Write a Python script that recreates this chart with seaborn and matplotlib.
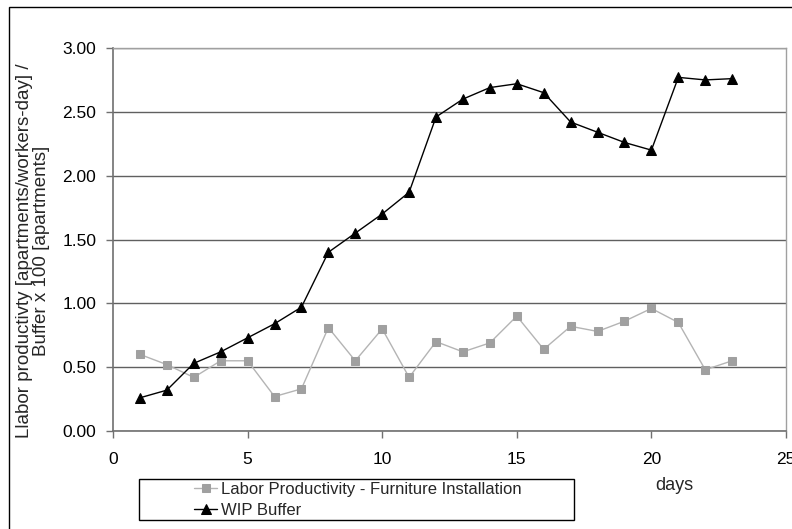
import matplotlib
matplotlib.use("Agg")
import matplotlib.pyplot as plt
import seaborn as sns
import pandas as pd
from matplotlib.patches import Rectangle

days = list(range(1, 24))
labor_productivity = [0.60, 0.52, 0.42, 0.55, 0.55, 0.27, 0.33, 0.81, 0.55, 0.80,
                      0.42, 0.70, 0.62, 0.69, 0.90, 0.64, 0.82, 0.78, 0.86, 0.96,
                      0.85, 0.48, 0.55]
wip_buffer = [0.26, 0.32, 0.53, 0.62, 0.73, 0.84, 0.97, 1.40, 1.55, 1.70,
              1.87, 2.46, 2.60, 2.69, 2.72, 2.65, 2.42, 2.34, 2.26, 2.20,
              2.77, 2.75, 2.76]
series_names = ["Labor Productivity - Furniture Installation", "WIP Buffer"]
x_ticks = [0, 5, 10, 15, 20, 25]
y_ticks = [0.0, 0.5, 1.0, 1.5, 2.0, 2.5, 3.0]

sns.set_style("white")
plt.rcParams['font.family'] = ['Liberation Sans', 'DejaVu Sans']

fig = plt.figure(figsize=(7.92, 5.29), dpi=100)
ax = fig.add_axes([113/792, 1 - 431/529, (786 - 113)/792, (431 - 48)/529])

df1 = pd.DataFrame({"day": days, "value": labor_productivity})
df2 = pd.DataFrame({"day": days, "value": wip_buffer})

sns.lineplot(data=df1, x="day", y="value", ax=ax, color="#b4b4b4", lw=1,
             marker="s", markersize=6, markerfacecolor="#a0a0a0",
             markeredgecolor="#a0a0a0", label=series_names[0], zorder=3)
sns.lineplot(data=df2, x="day", y="value", ax=ax, color="black", lw=1,
             marker="^", markersize=7, markerfacecolor="black",
             markeredgecolor="black", label=series_names[1], zorder=4)

ax.set_xlim(0, 25)
ax.set_ylim(0, 3.0)
ax.set_xticks(x_ticks)
ax.set_xticklabels([str(t) for t in x_ticks])
ax.set_yticks(y_ticks)
ax.set_yticklabels([f"{t:.2f}" for t in y_ticks])
ax.yaxis.grid(True, color="#606060", lw=1)
ax.set_axisbelow(True)
ax.tick_params(axis="both", direction="out", length=5, width=1, color="#707070",
               labelsize=12.5, labelcolor="black", bottom=True, left=True)
ax.tick_params(axis="y", pad=7)
ax.tick_params(axis="x", pad=10)
for side in ["left", "bottom"]:
    ax.spines[side].set_color("#707070")
    ax.spines[side].set_linewidth(1.2)
for side in ["right", "top"]:
    ax.spines[side].set_color("#a0a0a0")
    ax.spines[side].set_linewidth(1)

ax.set_xlabel("")
ax.set_ylabel("")
fig.text(33/792, 1 - 251/529,
         "Llabor productivty [apartments/workers-day] /\nBuffer x 100 [apartments]",
         fontsize=13.5, rotation=90, ha="center", va="center",
         multialignment="center", linespacing=1.05)

fig.text(674/792, 1 - 485/529, "days", fontsize=13, ha="center", va="center")

ax.get_legend().remove()
handles, labels = ax.get_legend_handles_labels()
fig.patches.append(Rectangle((139/792, 1 - 520/529), (574 - 139)/792, (520 - 479)/529,
                             transform=fig.transFigure, fill=False, edgecolor="black",
                             lw=1, zorder=5))
fig.legend(handles, labels, loc="upper left", bbox_to_anchor=(194/792, 1 - 482/529),
           frameon=False, borderpad=0, fontsize=12, handlelength=1.4,
           handletextpad=0.2, labelspacing=0.35, borderaxespad=0)

fig.patches.append(Rectangle((9/792, -0.1), 1.2, 1 - 7/529 + 0.1,
                             transform=fig.transFigure, fill=False, edgecolor="black",
                             lw=1, zorder=5))

fig.savefig("out.png", dpi=100)
